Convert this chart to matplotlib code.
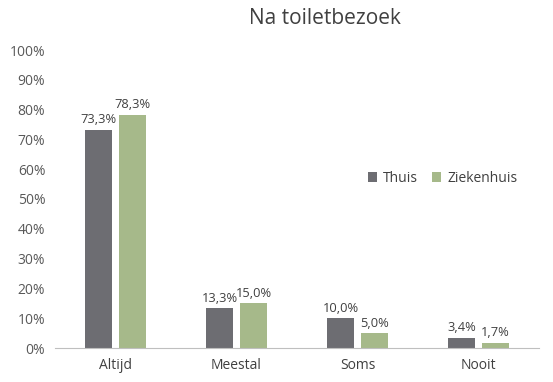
import matplotlib
matplotlib.use("Agg")
import matplotlib.pyplot as plt
import numpy as np

categories = ["Altijd", "Meestal", "Soms", "Nooit"]
thuis = [73.3, 13.3, 10.0, 3.4]
ziekenhuis = [78.3, 15.0, 5.0, 1.7]
yticks = list(range(0, 101, 10))

plt.rcParams['font.family'] = ['Open Sans', 'DejaVu Sans']
txt = '#404040'

fig = plt.figure(figsize=(5.53, 3.82), dpi=100)
ax = fig.add_axes([55/553, 34/382, 484/553, 298/382])

x = np.arange(len(categories))
w = 0.223
off = 0.14
b1 = ax.bar(x - off, thuis, w, color='#6d6d72', label='Thuis')
b2 = ax.bar(x + off, ziekenhuis, w, color='#a6b98a', label='Ziekenhuis')

for bars, vals in ((b1, thuis), (b2, ziekenhuis)):
    for b, v in zip(bars, vals):
        ax.text(b.get_x() + b.get_width()/2, v + 1.2, f"{v:.1f}%".replace('.', ','),
                ha='center', va='bottom', fontsize=9.3, color=txt)

ax.set_xlim(-0.5, 3.5)
ax.set_ylim(0, 100)
ax.set_yticks(yticks)
ax.set_yticklabels([f"{t}%" for t in yticks], fontsize=10, color='#595959')
ax.set_xticks(x)
ax.set_xticklabels(categories, fontsize=10, color=txt)
ax.tick_params(length=0, pad=7)
for s in ['top', 'right', 'left']:
    ax.spines[s].set_visible(False)
ax.spines['bottom'].set_color('#bfbfbf')

fig.suptitle("Na toiletbezoek", x=0.588, y=0.98, fontsize=15, color=txt)

ax.legend(loc='center left', bbox_to_anchor=(0.62, 0.57), frameon=False, fontsize=10,
          handlelength=0.7, handleheight=0.7, handletextpad=0.4, columnspacing=1.0,
          ncol=2, labelcolor=txt)

fig.savefig("out.png", dpi=100)
